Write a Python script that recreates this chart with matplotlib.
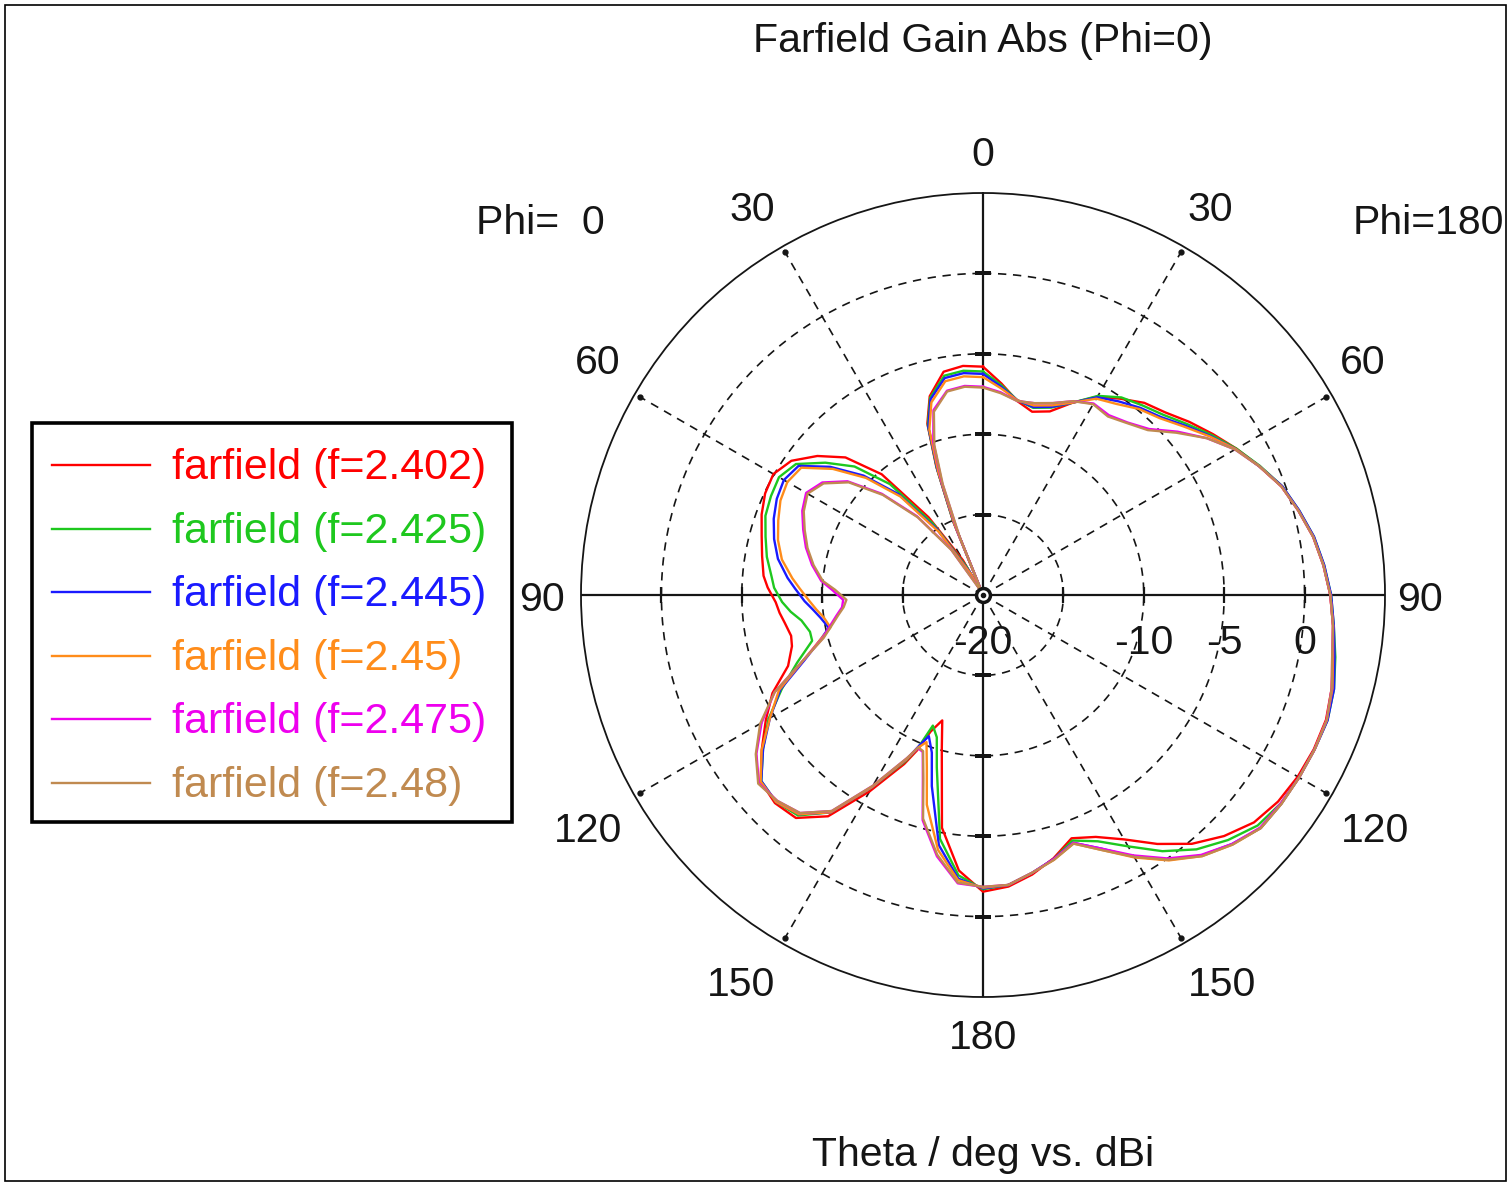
import numpy as np
import matplotlib
matplotlib.use("Agg")
import matplotlib.pyplot as plt
import matplotlib.transforms as mtransforms
from matplotlib.lines import Line2D
from matplotlib.patches import Rectangle

plt.rcParams['font.family'] = ['Liberation Sans', 'DejaVu Sans']

# --- data ----------------------------------------------------------------
# angle measured clockwise from the top (right half = Phi 180, left half = Phi 0)
angles = [0, 5, 10, 15, 20, 25, 30, 35, 40, 45, 50, 55, 60, 65, 70, 75, 80, 85,
          90, 95, 100, 105, 110, 115, 120, 125, 130, 135, 140, 145, 150, 155,
          160, 165, 170, 175, 180, 185, 190, 195, 198, 201, 203, 205, 210, 215,
          220, 225, 230, 235, 240, 245, 250, 255, 258, 262, 265, 268, 272, 275,
          280, 285, 290, 295, 300, 305, 310, 315, 320, 325, 330, 335, 338, 340,
          342, 345, 350, 355]

gain_2402 = [-5.8, -6.8, -7.75, -8.2, -7.85, -6.8, -5.75, -5.1, -4.4, -3.95, -3.25, -2.55,
             -1.8, -1.05, -0.25, 0.3, 0.85, 1.25, 1.6, 1.85, 2.1, 2.45, 2.7, 2.7,
             2.6, 2.4, 2.0, 1.2, 0.2, -1.1, -2.45, -3.4, -3.9, -3.05, -2.35, -1.8,
             -1.55, -2.8, -5.3, -10.1, -11.8, -10.9, -9.5, -8.4, -5.9, -3.2,
             -1.9, -1.7, -1.95, -3.2, -4.4, -5.55, -7.1, -7.7, -7.8, -7.55, -7.3, -7.1,
             -6.6, -6.3, -6.05, -5.75, -5.35, -5.05, -4.95, -5.45, -6.55, -7.9, -10.2,
             -14.1, -17.5, -24.0, -15.0, -11.5, -8.8, -7.2, -5.9, -5.7]

gain_2425 = [-6.1, -6.9, -7.7, -7.95, -7.6, -6.8, -5.7, -5.0, -4.6, -4.15, -3.45, -2.65,
             -1.8, -1.0, -0.2, 0.35, 0.9, 1.3, 1.65, 1.9, 2.25, 2.6, 2.8, 2.75,
             2.7, 2.6, 2.3, 1.55, 0.65, -0.55, -1.95, -3.1, -3.75, -3.0, -2.45, -1.9,
             -1.7, -2.5, -4.6, -8.9, -10.7, -11.3, -9.7, -8.6, -6.2, -3.5,
             -2.1, -1.8, -2.0, -3.3, -4.6, -6.2, -7.7, -9.0, -9.0, -8.6, -8.0, -7.5,
             -7.0, -6.8, -6.35, -6.0, -5.6, -5.45, -5.35, -5.8, -7.2, -8.7, -11.0,
             -14.6, -18.0, -24.0, -15.0, -11.6, -8.9, -7.3, -6.15, -6.0]

gain_2445 = [-6.25, -7.0, -7.7, -7.9, -7.55, -6.8, -5.8, -5.3, -4.8, -4.35, -3.6, -2.75,
             -1.85, -1.05, -0.2, 0.35, 0.9, 1.3, 1.65, 1.9, 2.2, 2.6, 2.8, 2.75,
             2.7, 2.65, 2.55, 1.9, 1.15, 0.1, -1.2, -2.6, -3.6, -3.0, -2.45, -1.9,
             -1.75, -2.3, -4.2, -7.7, -9.7, -10.6, -9.8, -8.7, -6.2, -3.5,
             -2.2, -1.8, -2.0, -3.3, -4.7, -6.1, -8.2, -9.6, -10.2, -9.8, -9.4, -8.9,
             -8.3, -7.8, -7.05, -6.55, -6.15, -5.85, -5.7, -6.0, -7.6, -9.5, -11.8,
             -15.0, -18.3, -24.0, -15.2, -11.7, -9.0, -7.4, -6.3, -6.15]

gain_2450 = [-6.45, -7.1, -7.7, -7.8, -7.45, -6.8, -5.9, -5.5, -4.9, -4.45, -3.7, -2.8,
             -1.85, -1.05, -0.25, 0.3, 0.85, 1.25, 1.6, 1.85, 2.1, 2.5, 2.75, 2.75,
             2.7, 2.65, 2.55, 1.95, 1.2, 0.15, -1.15, -2.5, -3.55, -2.95, -2.45, -1.9,
             -1.8, -2.2, -3.9, -6.5, -8.7, -10.2, -9.7, -8.7, -6.2, -3.5,
             -2.2, -1.8, -1.95, -3.2, -4.7, -6.0, -8.1, -9.6, -10.3, -10.0, -9.6, -9.2,
             -8.6, -8.1, -7.3, -6.8, -6.45, -6.1, -5.95, -6.2, -7.8, -9.7, -12.0,
             -15.2, -18.5, -24.0, -15.3, -11.9, -9.2, -7.6, -6.5, -6.35]

gain_2475 = [-7.05, -7.35, -7.75, -7.65, -7.3, -6.7, -6.25, -6.35, -6.0, -5.4, -4.2, -3.0,
             -1.9, -1.05, -0.25, 0.3, 0.85, 1.25, 1.6, 1.85, 2.05, 2.45, 2.75, 2.75,
             2.7, 2.6, 2.5, 1.9, 1.1, 0.0, -1.3, -2.6, -3.6, -3.0, -2.45, -1.9,
             -1.85, -2.0, -3.5, -5.5, -7.9, -9.55, -9.65, -8.8, -6.3, -3.6,
             -2.3, -1.9, -1.8, -2.8, -4.1, -5.7, -8.1, -9.7, -10.2, -10.8, -11.2, -11.3,
             -10.6, -9.9, -9.2, -8.6, -8.1, -7.6, -7.3, -7.8, -9.0, -11.1, -13.6,
             -16.5, -19.5, -24.0, -16.0, -12.5, -10.0, -8.1, -7.1, -6.95]

gain_2480 = [-7.1, -7.4, -7.75, -7.65, -7.3, -6.7, -6.3, -6.45, -6.05, -5.5, -4.3, -3.0,
             -1.9, -1.05, -0.25, 0.3, 0.85, 1.25, 1.6, 1.85, 2.05, 2.45, 2.75, 2.75,
             2.7, 2.65, 2.55, 1.95, 1.2, 0.1, -1.2, -2.5, -3.55, -2.95, -2.45, -1.9,
             -1.85, -2.05, -3.6, -5.6, -8.0, -9.6, -9.7, -8.8, -6.3, -3.6,
             -2.3, -1.9, -1.75, -2.75, -4.0, -5.7, -8.1, -9.75, -10.3, -10.9, -11.3, -11.5,
             -10.8, -10.0, -9.3, -8.7, -8.2, -7.7, -7.4, -7.9, -9.1, -11.2, -13.7,
             -16.6, -19.6, -24.0, -16.2, -12.7, -10.2, -8.2, -7.15, -7.0]

series = [gain_2402, gain_2425, gain_2445, gain_2450, gain_2475, gain_2480]
labels = ['farfield (f=2.402)', 'farfield (f=2.425)', 'farfield (f=2.445)',
          'farfield (f=2.45)', 'farfield (f=2.475)', 'farfield (f=2.48)']
colors = ['#ff0000', '#1ec81e', '#1a1aff', '#ff8c1a', '#ee00ee', '#c08a50']

ring_values = [-15, -10, -5, 0]
radial_labels = ['-20', '-10', '-5', '0']
radial_label_values = [-20, -10, -5, 0]
spoke_angles = [30, 60, 120, 150, 210, 240, 300, 330]
angle_text = ['0', '30', '60', '90', '120', '150', '180', '150', '120', '90', '60', '30']

# --- figure ---------------------------------------------------------------
W, H = 1510, 1183
cx, cy, R = 983, 595, 402
ink = '#151515'


def fx(px):
    return px / W


def fy(py):
    return 1 - py / H


fig = plt.figure(figsize=(W / 100, H / 100), dpi=100)
ax = fig.add_axes([(cx - R) / W, (H - cy - R) / H, 2 * R / W, 2 * R / H], projection='polar')
ax.set_theta_zero_location('N')
ax.set_theta_direction(-1)
ax.set_ylim(-20, 5)
ax.set_xticks([])
ax.set_yticks([])
ax.grid(False)
ax.spines['polar'].set_linewidth(1.3)
ax.spines['polar'].set_color(ink)

full = np.linspace(0, 2 * np.pi, 721)
for rv in ring_values:
    ax.plot(full, np.full_like(full, rv), color=ink, lw=1.2, ls=(0, (5, 4)), zorder=1)

for a in spoke_angles:
    ax.plot([np.deg2rad(a)] * 2, [-20, 5], color=ink, lw=1.2, ls=(0, (5, 4)), zorder=1)

# solid cross axes
for a in (0, 90):
    t = np.deg2rad(a)
    ax.plot([t, t, t + np.pi], [5, -20, 5], color=ink, lw=1.6, zorder=1)

# tick marks where rings cross the axes
for a in (90, 270):
    ax.plot([np.deg2rad(a)] * len(ring_values), ring_values, ls='none', marker='|',
            ms=11, mew=1.6, color=ink, zorder=1)
for a in (0, 180):
    ax.plot([np.deg2rad(a)] * len(ring_values), ring_values, ls='none', marker='_',
            ms=11, mew=1.6, color=ink, zorder=1)

# small ticks on the outer circle at the dashed spokes
ax.plot(np.deg2rad(spoke_angles), [4.6] * len(spoke_angles), ls='none', marker='o',
        ms=3.5, color=ink, zorder=1)

# farfield curves
theta = np.deg2rad(np.append(angles, angles[0] + 360))
for g, lab, c in zip(series, labels, colors):
    r = np.maximum(np.append(g, g[0]), -20)
    ax.plot(theta, r, color=c, lw=1.7, label=lab, zorder=3)

# centre marker
ax.plot([0], [-20], marker='o', ms=10, mfc='white', mec=ink, mew=2.5, zorder=5)
ax.plot([0], [-20], marker='o', ms=3, color=ink, zorder=6)

# angle labels (pixel centres measured on the reference)
label_pos = [(983, 155), (1210, 210), (1363, 363), (1420, 600), (1375, 831), (1222, 985),
             (983, 1038), (741, 985), (588, 831), (542, 600), (598, 363), (752, 210)]
for (px, py), txt in zip(label_pos, angle_text):
    fig.text(fx(px), fy(py), txt, ha='center', va='center', fontsize=29.5, color=ink)

# radial labels below the horizontal axis
below = mtransforms.offset_copy(ax.transData, fig=fig, x=0, y=-48, units='dots')
for v, txt in zip(radial_label_values, radial_labels):
    ax.text(np.deg2rad(90), v, txt, transform=below, ha='center', va='center',
            fontsize=29.5, color=ink, zorder=4)

# titles
fig.text(fx(983), fy(41), 'Farfield Gain Abs (Phi=0)', ha='center', va='center',
         fontsize=29.5, color=ink)
fig.text(fx(983), fy(1155), 'Theta / deg vs. dBi', ha='center', va='center',
         fontsize=29.5, color=ink)
fig.text(fx(540), fy(223), 'Phi=  0', ha='center', va='center', fontsize=29.5, color=ink)
fig.text(fx(1428), fy(223), 'Phi=180', ha='center', va='center', fontsize=29.5, color=ink)

# legend box drawn by hand
fig.add_artist(Rectangle((fx(32), fy(822)), 480 / W, 399 / H, transform=fig.transFigure,
                         fill=False, lw=2.6, ec='black'))
for i, (lab, c) in enumerate(zip(labels, colors)):
    y = fy(468 + i * 63.6)
    ly = fy(465 + i * 63.6)
    fig.add_artist(Line2D([fx(52), fx(150)], [ly, ly], transform=fig.transFigure, color=c, lw=1.7))
    fig.text(fx(172), y, lab, ha='left', va='center', fontsize=31, color=c)

# outer frame of the picture
fig.add_artist(Rectangle((fx(5), 2 / H), 1501 / W, (H - 7) / H, transform=fig.transFigure,
                         fill=False, lw=1.2, ec='black'))

fig.savefig('out.png', dpi=100)
